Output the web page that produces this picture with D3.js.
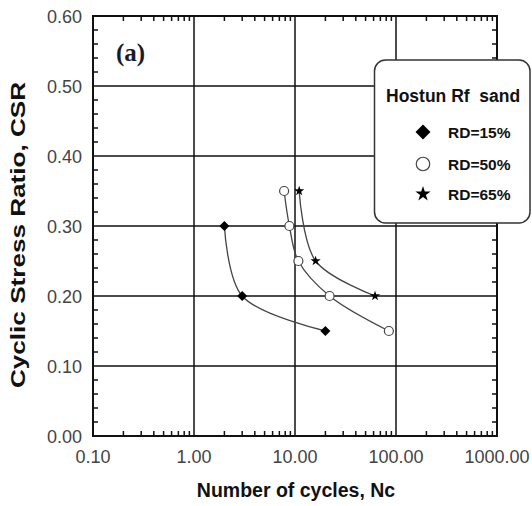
<!DOCTYPE html>
<html><head><meta charset="utf-8">
<script src="https://cdn.jsdelivr.net/npm/d3@7"></script>
<style>body{margin:0;background:#fff}svg{display:block}</style>
</head><body>
<svg id="c" width="532" height="506"></svg>
<script>
const xTicks = [0.1, 1, 10, 100, 1000];
const xTickLabels = ["0.10", "1.00", "10.00", "100.00", "1000.00"];
const yTicks = [0, 0.1, 0.2, 0.3, 0.4, 0.5, 0.6];
const yTickLabels = ["0.00", "0.10", "0.20", "0.30", "0.40", "0.50", "0.60"];
const seriesNames = ["RD=15%", "RD=50%", "RD=65%"];
const nc15 = [2.0, 3.0, 20];
const csr15 = [0.30, 0.20, 0.15];
const nc50 = [7.8, 8.8, 10.8, 22, 85];
const csr50 = [0.35, 0.30, 0.25, 0.20, 0.15];
const nc65 = [11, 16, 62];
const csr65 = [0.35, 0.25, 0.20];
const legendTitle = "Hostun Rf\u00a0 sand";
const panelLabel = "(a)";
const xTitle = "Number of cycles, Nc";
const yTitle = "Cyclic Stress Ratio, CSR";

const svg = d3.select("#c");
const L = 93, R = 497, T = 16, B = 436;
const x = d3.scaleLog().domain([0.1, 1000]).range([L, R]);
const y = d3.scaleLinear().domain([0, 0.6]).range([B, T]);
const font = "'Liberation Sans', Arial, sans-serif";

// grid
const g = svg.append("g");
g.selectAll(".vg").data(xTicks.slice(1, -1)).join("line")
  .attr("x1", d => x(d)).attr("x2", d => x(d)).attr("y1", T).attr("y2", B)
  .attr("stroke", "#111").attr("stroke-width", 1.5);
g.selectAll(".hg").data(yTicks.slice(1, -1)).join("line")
  .attr("y1", d => y(d)).attr("y2", d => y(d)).attr("x1", L).attr("x2", R)
  .attr("stroke", "#111").attr("stroke-width", 1.5);

// minor ticks
const minorX = [];
for (let dec = 0.1; dec < 1000; dec *= 10) for (let k = 2; k <= 9; k++) minorX.push(dec * k);
const minorY = d3.range(0, 31).map(i => i * 0.02).filter(v => Math.abs(v * 10 - Math.round(v * 10)) > 1e-6);
const tl = 5;
g.selectAll(".mxb").data(minorX).join("line")
  .attr("x1", d => x(d)).attr("x2", d => x(d)).attr("y1", B).attr("y2", B - tl)
  .attr("stroke", "#111").attr("stroke-width", 1.5);
g.selectAll(".mxt").data(minorX).join("line")
  .attr("x1", d => x(d)).attr("x2", d => x(d)).attr("y1", T).attr("y2", T + tl)
  .attr("stroke", "#111").attr("stroke-width", 1.5);
g.selectAll(".myl").data(minorY).join("line")
  .attr("y1", d => y(d)).attr("y2", d => y(d)).attr("x1", L).attr("x2", L + tl)
  .attr("stroke", "#111").attr("stroke-width", 1.5);
g.selectAll(".myr").data(minorY).join("line")
  .attr("y1", d => y(d)).attr("y2", d => y(d)).attr("x1", R).attr("x2", R - tl)
  .attr("stroke", "#111").attr("stroke-width", 1.5);

// frame
g.append("rect").attr("x", L).attr("y", T).attr("width", R - L).attr("height", B - T)
  .attr("fill", "none").attr("stroke", "#111").attr("stroke-width", 2);

// tick labels
svg.selectAll(".xl").data(xTicks).join("text")
  .attr("x", d => x(d)).attr("y", 463).attr("text-anchor", "middle")
  .attr("font-family", font).attr("font-size", 18).attr("fill", "#444")
  .text((d, i) => xTickLabels[i]);
svg.selectAll(".yl").data(yTicks).join("text")
  .attr("x", 82).attr("y", d => y(d) + 6.5).attr("text-anchor", "end")
  .attr("font-family", font).attr("font-size", 18).attr("fill", "#444")
  .text((d, i) => yTickLabels[i]);

svg.append("text").attr("x", 296).attr("y", 497).attr("text-anchor", "middle")
  .attr("font-family", font).attr("font-size", 19.5).attr("font-weight", "bold").attr("fill", "#111")
  .text(xTitle);
svg.append("text").attr("transform", "translate(25,235) rotate(-90)").attr("text-anchor", "middle")
  .attr("font-family", font).attr("font-size", 20).attr("font-weight", "bold").attr("fill", "#111")
  .attr("textLength", 306).attr("lengthAdjust", "spacingAndGlyphs")
  .text(yTitle);
svg.append("text").attr("x", 116).attr("y", 61)
  .attr("font-family", "'Liberation Serif', 'Times New Roman', serif").attr("font-size", 25).attr("font-weight", "bold").attr("fill", "#1a1a2a")
  .text(panelLabel);

// series lines
const line = d3.line().x(d => x(d[0])).y(d => y(d[1])).curve(d3.curveCatmullRom.alpha(0.5));
const series = [
  {name: seriesNames[0], nc: nc15, csr: csr15, sym: "diamond"},
  {name: seriesNames[1], nc: nc50, csr: csr50, sym: "circle"},
  {name: seriesNames[2], nc: nc65, csr: csr65, sym: "star"}
];
series.forEach(s => {
  const pts = s.nc.map((n, i) => [n, s.csr[i]]);
  svg.append("path").attr("d", line(pts)).attr("fill", "none")
    .attr("stroke", "#444").attr("stroke-width", 1.3);
});

function drawSym(sel, sym, big) {
  const k = big ? 1.5 : 1;
  if (sym === "circle") {
    sel.append("circle").attr("r", 4.5 * k).attr("fill", "#fff").attr("stroke", "#444").attr("stroke-width", 1.2);
  } else if (sym === "diamond") {
    sel.append("path").attr("d", d3.symbol(d3.symbolSquare, 50 * k * k)()).attr("transform", "rotate(45)").attr("fill", "#000");
  } else {
    sel.append("path").attr("d", d3.symbol(d3.symbolStar, 32 * k * k)()).attr("fill", "#000");
  }
}
series.forEach(s => {
  s.nc.forEach((n, i) => {
    const gg = svg.append("g").attr("transform", `translate(${x(n)},${y(s.csr[i])})`);
    drawSym(gg, s.sym, false);
  });
});

// legend
const lg = svg.append("g");
lg.append("rect").attr("x", 374.5).attr("y", 60).attr("width", 155.5).attr("height", 163).attr("rx", 11)
  .attr("fill", "#fff").attr("stroke", "#333").attr("stroke-width", 1.5);
lg.append("text").attr("x", 386).attr("y", 102).attr("font-family", font).attr("font-size", 17.5)
  .attr("font-weight", "bold").attr("fill", "#111").text(legendTitle);
const ly = [132, 164, 194];
series.forEach((s, i) => {
  const gg = lg.append("g").attr("transform", `translate(423,${ly[i]})`);
  drawSym(gg, s.sym, true);
  lg.append("text").attr("x", 448).attr("y", ly[i] + 6).attr("font-family", font).attr("font-size", 15.5)
    .attr("font-weight", "bold").attr("fill", "#111").text(s.name);
});
</script>
</body></html>
